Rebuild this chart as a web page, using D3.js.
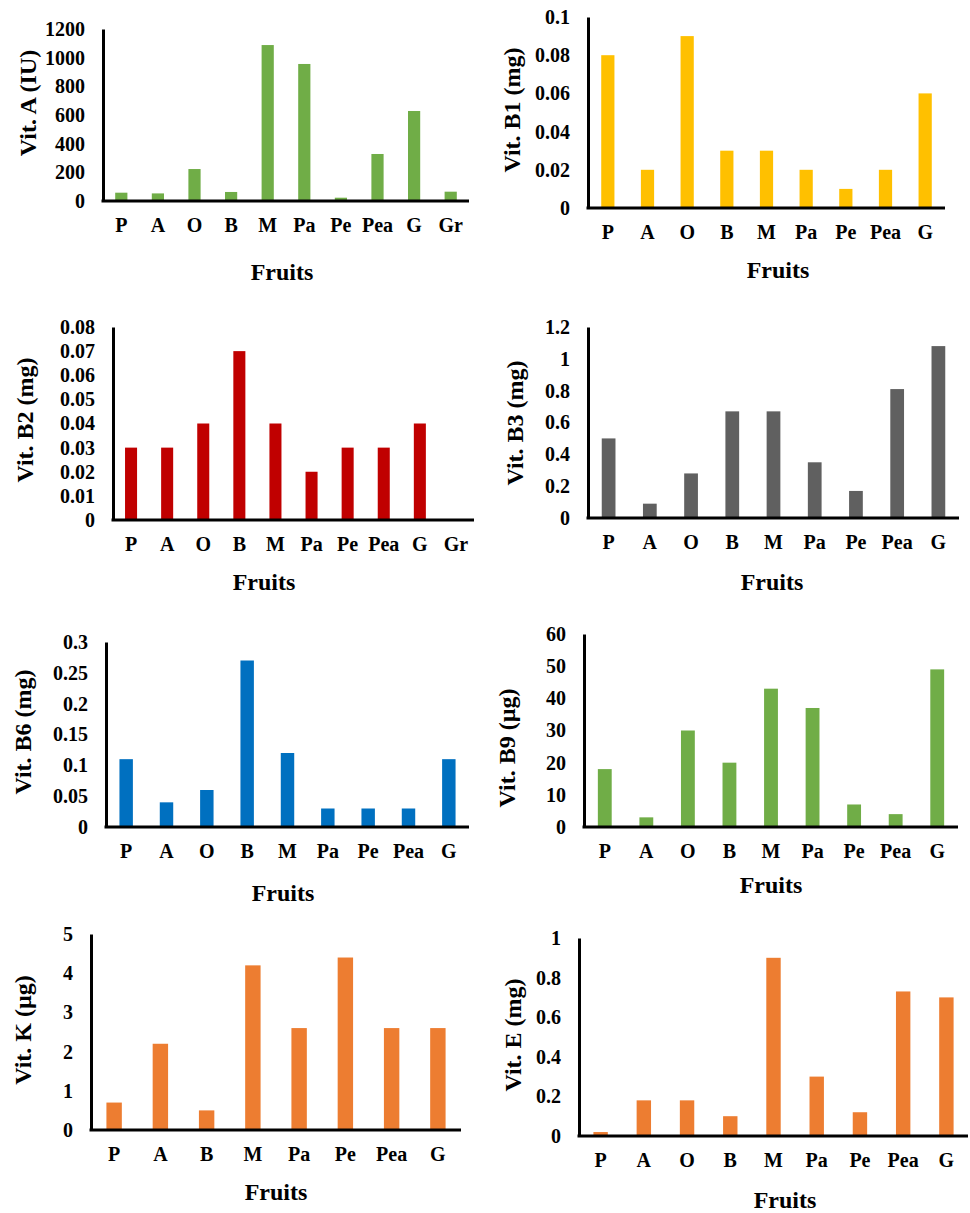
<!DOCTYPE html>
<html>
<head>
<meta charset="utf-8">
<script src="https://cdn.jsdelivr.net/npm/d3@7/dist/d3.min.js"></script>
<style>
  body { margin: 0; background: #fff; }
  svg text { font-family: "Liberation Serif", "Times New Roman", serif; font-weight: bold; fill: #000; }
</style>
</head>
<body>
<svg width="970" height="1213"></svg>
<script>
// categories
var fruits10 = ["P", "A", "O", "B", "M", "Pa", "Pe", "Pea", "G", "Gr"];
var fruits9 = ["P", "A", "O", "B", "M", "Pa", "Pe", "Pea", "G"];
var fruits8 = ["P", "A", "B", "M", "Pa", "Pe", "Pea", "G"];

// series values
var vitA = [58, 53, 223, 63, 1088, 956, 23, 328, 628, 65];
var vitB1 = [0.08, 0.02, 0.09, 0.03, 0.03, 0.02, 0.01, 0.02, 0.06];
var vitB2 = [0.03, 0.03, 0.04, 0.07, 0.04, 0.02, 0.03, 0.03, 0.04, 0];
var vitB3 = [0.5, 0.09, 0.28, 0.67, 0.67, 0.35, 0.17, 0.81, 1.08];
var vitB6 = [0.11, 0.04, 0.06, 0.27, 0.12, 0.03, 0.03, 0.03, 0.11];
var vitB9 = [18, 3, 30, 20, 43, 37, 7, 4, 49];
var vitK = [0.7, 2.2, 0.5, 4.2, 2.6, 4.4, 2.6, 2.6];
var vitE = [0.02, 0.18, 0.18, 0.1, 0.9, 0.3, 0.12, 0.73, 0.7];

// tick values
var ticksA = [0, 200, 400, 600, 800, 1000, 1200];
var ticksB1 = [0, 0.02, 0.04, 0.06, 0.08, 0.1];
var ticksB2 = [0, 0.01, 0.02, 0.03, 0.04, 0.05, 0.06, 0.07, 0.08];
var ticksB3 = [0, 0.2, 0.4, 0.6, 0.8, 1, 1.2];
var ticksB6 = [0, 0.05, 0.1, 0.15, 0.2, 0.25, 0.3];
var ticksB9 = [0, 10, 20, 30, 40, 50, 60];
var ticksK = [0, 1, 2, 3, 4, 5];
var ticksE = [0, 0.2, 0.4, 0.6, 0.8, 1];

// axis titles
var titles = ["Vit. A (IU)", "Vit. B1 (mg)", "Vit. B2 (mg)", "Vit. B3 (mg)",
	"Vit. B6 (mg)", "Vit. B9 (µg)", "Vit. K (µg)", "Vit. E (mg)"];
var xTitle = "Fruits";

var panels = [
	{ cats: fruits10, vals: vitA, ticks: ticksA, color: "#70AD47", x0: 103, x1: 469, top: 29, base: 201, ty: 103, tx: 28, fx: 282, fy: 272 },
	{ cats: fruits9, vals: vitB1, ticks: ticksB1, color: "#FFC000", x0: 588, x1: 945, top: 17, base: 208, ty: 110, tx: 512, fx: 778, fy: 270 },
	{ cats: fruits10, vals: vitB2, ticks: ticksB2, color: "#C00000", x0: 113, x1: 474, top: 327, base: 520, ty: 420, tx: 25, fx: 264, fy: 582 },
	{ cats: fruits9, vals: vitB3, ticks: ticksB3, color: "#606060", x0: 588, x1: 959, top: 327, base: 518, ty: 423, tx: 515, fx: 772, fy: 582 },
	{ cats: fruits9, vals: vitB6, ticks: ticksB6, color: "#0070C0", x0: 106, x1: 469, top: 642, base: 827, ty: 732, tx: 23, fx: 283, fy: 893 },
	{ cats: fruits9, vals: vitB9, ticks: ticksB9, color: "#70AD47", x0: 584, x1: 958, top: 634, base: 827, ty: 748, tx: 507, fx: 771, fy: 885 },
	{ cats: fruits8, vals: vitK, ticks: ticksK, color: "#ED7D31", x0: 91, x1: 461, top: 934, base: 1130, ty: 1030, tx: 23, fx: 276, fy: 1192 },
	{ cats: fruits9, vals: vitE, ticks: ticksE, color: "#ED7D31", x0: 579, x1: 968, top: 938, base: 1136, ty: 1035, tx: 513, fx: 785, fy: 1200 }
];

var svg = d3.select("svg");

function fmt(v) {
	return String(+v.toFixed(3));
}

panels.forEach(function(p, i) {
	var g = svg.append("g");

	var x = d3.scaleBand()
		.domain(p.cats)
		.range([p.x0, p.x1])
		.paddingInner(2 / 3)
		.paddingOuter(1 / 3);

	var y = d3.scaleLinear()
		.domain([0, p.ticks[p.ticks.length - 1]])
		.range([p.base, p.top]);

	g.selectAll(".bar")
		.data(p.vals)
		.enter().append("rect")
		.attr("class", "bar")
		.attr("x", function(d, k) { return x(p.cats[k]); })
		.attr("width", x.bandwidth())
		.attr("y", function(d) { return y(d); })
		.attr("height", function(d) { return p.base - y(d); })
		.attr("fill", p.color);

	var ya = g.append("g")
		.attr("transform", "translate(" + p.x0 + ",0)")
		.call(d3.axisLeft(y).tickValues(p.ticks).tickFormat(fmt).tickSize(0).tickSizeOuter(0).tickPadding(18));
	ya.selectAll("text").style("font-size", "20px");
	ya.select(".domain").attr("stroke", "#000").attr("stroke-width", 3);

	var xa = g.append("g")
		.attr("transform", "translate(0," + p.base + ")")
		.call(d3.axisBottom(x).tickSize(0).tickSizeOuter(0).tickPadding(17));
	xa.selectAll("text").style("font-size", "20px");
	xa.select(".domain")
		.attr("d", "M" + (p.x0 - 1.5) + ",0H" + p.x1)
		.attr("stroke", "#000").attr("stroke-width", 3);

	g.append("text")
		.attr("transform", "translate(" + p.tx + "," + p.ty + ") rotate(-90)")
		.attr("text-anchor", "middle")
		.attr("dy", "0.35em")
		.style("font-size", "24px")
		.text(titles[i]);

	g.append("text")
		.attr("x", p.fx)
		.attr("y", p.fy)
		.attr("text-anchor", "middle")
		.attr("dy", "0.35em")
		.style("font-size", "24px")
		.text(xTitle);
});
</script>
</body>
</html>
